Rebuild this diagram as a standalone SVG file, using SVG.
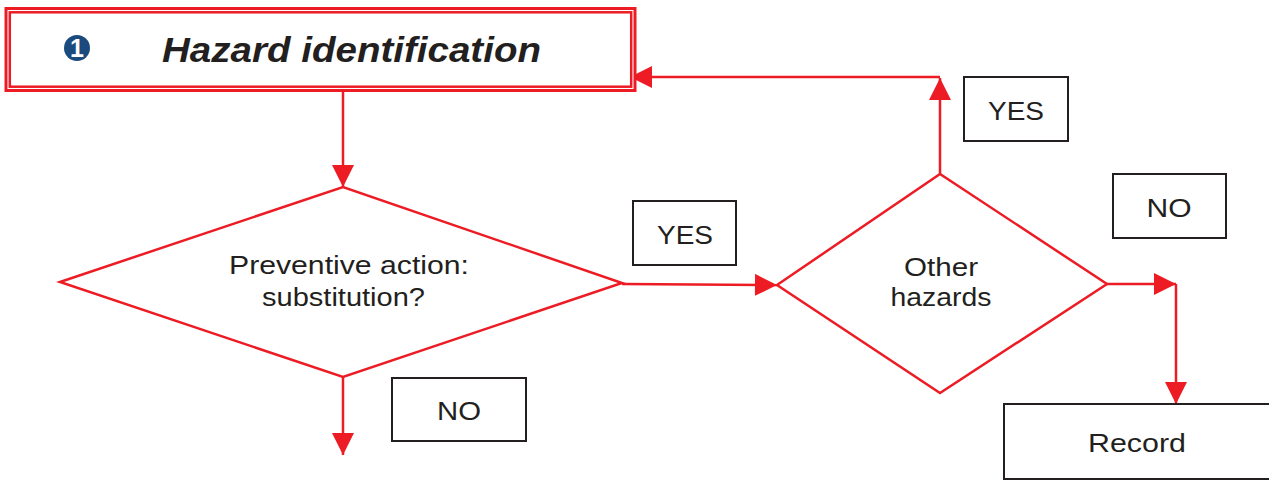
<svg xmlns="http://www.w3.org/2000/svg" width="1269" height="480" viewBox="0 0 1269 480">
<defs>
<style>
.lbl{font-family:"Liberation Sans",Arial,sans-serif;font-size:26px;fill:#231f20;text-anchor:middle}
.box{fill:#fff;stroke:#231f20;stroke-width:2}
.dia{fill:#fff;stroke:#ed1c24;stroke-width:2.5}
.con{fill:none;stroke:#ed1c24;stroke-width:2.5}
.ttl{font-family:"Liberation Sans",Arial,sans-serif;font-size:35px;font-weight:bold;font-style:italic;fill:#231f20}
</style>
<marker id="ah" viewBox="0 0 10 10" refX="10" refY="5" markerWidth="26" markerHeight="22" markerUnits="userSpaceOnUse" orient="auto">
<path d="M0,0 L10,5 L0,10 Z" fill="#ed1c24"/>
</marker>
</defs>
<rect width="1269" height="480" fill="#fff"/>

<g id="connectors">
<line class="con" x1="343" y1="91" x2="343" y2="187" marker-end="url(#ah)"/>
<line class="con" x1="343" y1="377" x2="343" y2="455" marker-end="url(#ah)"/>
<line class="con" x1="622" y1="284" x2="777" y2="285" marker-end="url(#ah)"/>
<line class="con" x1="940" y1="174" x2="940" y2="78" marker-end="url(#ah)"/>
<line class="con" x1="940" y1="77" x2="630" y2="77" marker-end="url(#ah)"/>
<line class="con" x1="1107" y1="284" x2="1176" y2="284" marker-end="url(#ah)"/>
<line class="con" x1="1176" y1="284" x2="1176" y2="404" marker-end="url(#ah)"/>
</g>

<g id="hazard-identification">
<rect x="6" y="8.5" width="629" height="82" fill="#fff" stroke="#ed1c24" stroke-width="3"/>
<rect x="9.8" y="12.3" width="621.4" height="74.4" fill="none" stroke="#ed1c24" stroke-width="2.5"/>
<circle cx="77" cy="48" r="13" fill="#1b4a7e"/>
<text x="77" y="57" font-family="Liberation Sans,Arial,sans-serif" font-size="25" font-weight="bold" fill="#fff" text-anchor="middle">1</text>
<text class="ttl" x="162" y="62" textLength="379" lengthAdjust="spacingAndGlyphs">Hazard identification</text>
</g>

<g id="substitution">
<polygon class="dia" points="60,282 343,187 622,283 343,377"/>
<text class="lbl" x="349" y="274" textLength="240" lengthAdjust="spacingAndGlyphs">Preventive action:</text>
<text class="lbl" x="343.5" y="306" textLength="163" lengthAdjust="spacingAndGlyphs">substitution?</text>
</g>

<g id="no-left">
<rect class="box" x="392" y="378" width="134" height="63"/>
<text class="lbl" x="459" y="420" textLength="44" lengthAdjust="spacingAndGlyphs">NO</text>
</g>

<g id="yes-mid">
<rect class="box" x="633" y="201" width="103" height="64"/>
<text class="lbl" x="685" y="244" textLength="56" lengthAdjust="spacingAndGlyphs">YES</text>
</g>

<g id="other-hazards">
<polygon class="dia" points="777,285 940,174 1107,284 940,393"/>
<text class="lbl" x="941" y="276" textLength="74" lengthAdjust="spacingAndGlyphs">Other</text>
<text class="lbl" x="941" y="306" textLength="101" lengthAdjust="spacingAndGlyphs">hazards</text>
</g>

<g id="yes-top">
<rect class="box" x="964" y="77" width="104" height="64"/>
<text class="lbl" x="1016" y="120" textLength="56" lengthAdjust="spacingAndGlyphs">YES</text>
</g>

<g id="no-right">
<rect class="box" x="1113" y="174" width="113" height="64"/>
<text class="lbl" x="1169" y="217" textLength="45" lengthAdjust="spacingAndGlyphs">NO</text>
</g>

<g id="record">
<rect class="box" x="1004" y="404" width="275" height="75"/>
<text class="lbl" x="1137" y="452" textLength="98" lengthAdjust="spacingAndGlyphs">Record</text>
</g>
</svg>
